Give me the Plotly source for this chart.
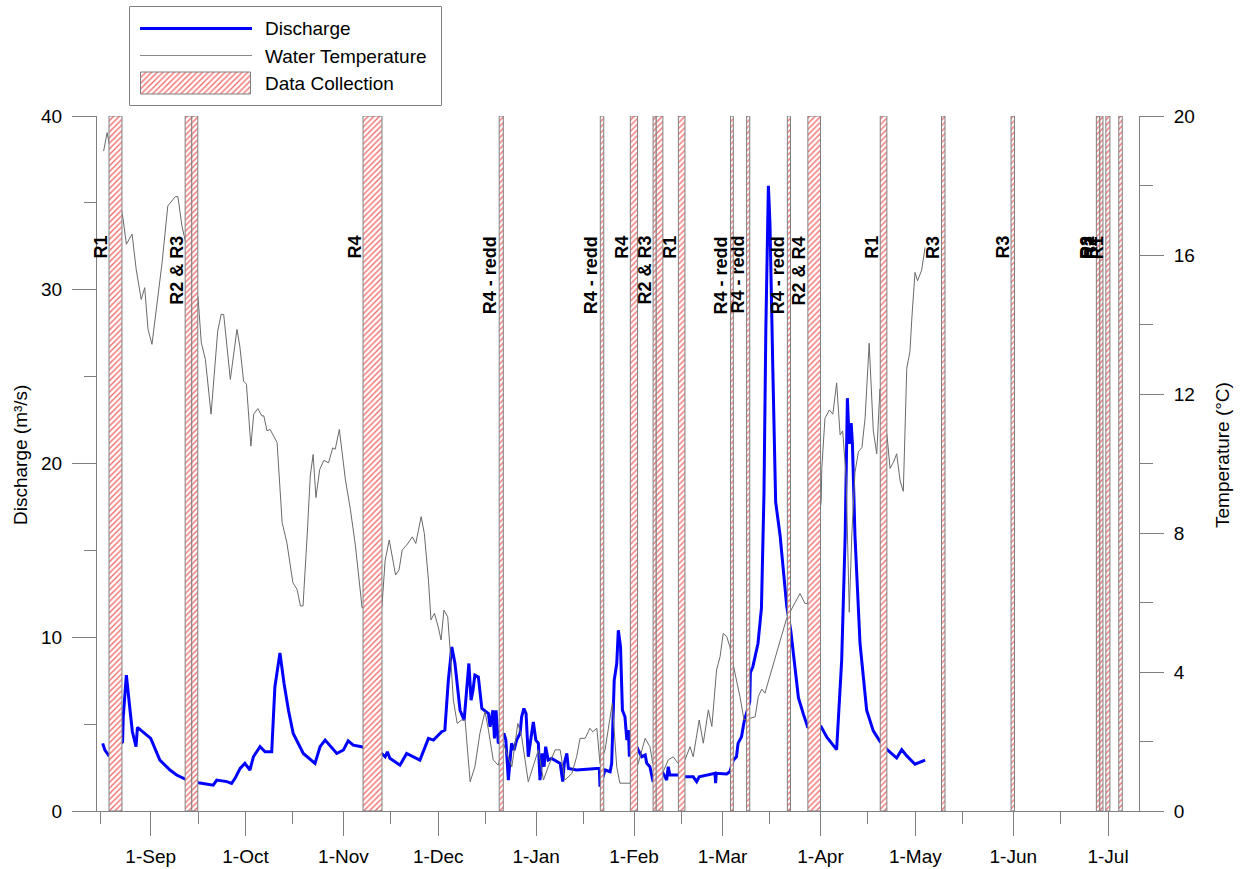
import pandas as pd
import plotly.graph_objects as go

# ---------------- data (days counted from 1 Sep 2012) ----------------
ORIGIN = pd.Timestamp("2012-09-01")

q_day = [-15.2, -14.5, -13.4, -8.9, -8.7, -7.7, -6.55, -5.8, -4.65, -4.2, 0.0, 1.05, 2.9, 6.1, 8.2, 10.9,
         15.1, 19.8, 20.9, 24.1, 25.6, 26.7, 28.3, 29.8, 31.4, 32.5, 34.6, 36.2, 38.3, 39.3, 40.9, 42.2,
         43.6, 45.1, 48.3, 52.0, 53.6, 55.2, 58.9, 61.0, 62.5, 64.1, 66.8, 73.1, 74.2, 74.9, 75.7, 78.9,
         81.0, 85.2, 87.9, 89.5, 92.1, 93.1, 94.2, 95.3, 96.3, 97.9, 99.2, 100.7, 101.4, 102.0, 102.6,
         103.7, 104.8, 106.9, 107.4, 108.3, 108.8, 109.3, 110.0, 111.8, 112.4, 113.2, 114.2, 115.0, 115.8,
         116.9, 117.4, 118.1, 118.8, 119.5, 120.3, 121.1, 121.9, 122.7, 123.2, 123.9, 124.5, 125.0, 125.8,
         126.9, 129.6, 130.4, 130.9, 131.7, 132.2, 134.8, 141.2, 142.0, 142.2, 143.8, 145.4, 145.9, 146.7,
         147.5, 148.0, 148.7, 149.3, 150.1, 150.7, 151.2, 151.5, 151.7, 154.3, 155.4, 156.5, 157.0, 158.0,
         158.9, 162.2, 163.3, 163.8, 164.3, 166.9, 168.8, 171.7, 172.8, 173.6, 176.0, 178.6, 178.8, 179.0,
         182.3, 183.3, 184.4, 185.4, 185.9, 187.0, 187.8, 189.6, 189.8, 190.6, 192.2, 193.3, 194.1, 194.7,
         195.5, 196.0, 196.9, 197.8, 199.2, 201.3, 202.6, 203.6, 205.0, 206.6, 207.9, 212.2, 214.0, 217.1,
         218.7, 219.8, 220.5, 221.1, 221.7, 222.1, 222.9, 224.5, 226.6, 228.7, 230.8, 233.1, 236.1, 237.7,
         239.3, 241.9, 243.5, 245.1]
q_val = [3.89, 3.5, 3.22, 3.98, 5.42, 7.82, 5.8, 4.56, 3.70, 4.81, 4.18, 3.70, 2.93, 2.36, 2.07, 1.84,
         1.63, 1.49, 1.78, 1.69, 1.59, 1.88, 2.45, 2.74, 2.36, 3.12, 3.70, 3.41, 3.41, 7.14, 9.10, 7.34,
         5.80, 4.46, 3.31, 2.74, 3.70, 4.08, 3.31, 3.51, 4.04, 3.79, 3.70, 3.31, 3.12, 3.41, 3.03, 2.64,
         3.31, 2.93, 4.18, 4.08, 4.56, 4.66, 7.53, 9.44, 8.49, 5.80, 5.23, 8.49, 6.38, 6.95, 7.82,
         7.72, 5.90, 5.61, 4.85, 5.80, 4.18, 5.80, 3.89, 4.46, 4.08, 1.78, 3.89, 3.51, 4.08,
         4.46, 5.42, 5.90, 5.61, 3.12, 4.08, 5.13, 4.08, 3.89, 1.78, 3.31, 2.55, 3.70, 2.93,
         3.03, 2.74, 1.69, 2.74, 3.31, 2.45, 2.36, 2.45, 2.45, 1.40, 2.36, 2.26, 2.74, 7.53,
         8.49, 10.40, 9.44, 5.80, 5.42, 4.08, 4.66, 3.12, 4.46, 3.51, 3.12, 3.22, 2.74, 2.55,
         1.78, 2.17, 1.78, 2.55, 2.07, 2.07, 1.97, 1.97, 1.69, 1.97, 2.07, 2.17, 1.60, 2.17,
         2.13, 2.26, 2.93, 3.12, 3.89, 4.27, 5.13, 6.28, 7.96, 8.32, 9.64, 11.67, 18.26, 27.83,
         35.98, 33.8, 25.44, 17.78, 15.86, 11.79, 10.36, 8.68, 6.52, 5.56, 4.85, 4.85, 4.25, 3.53,
         8.68, 15.86, 23.76, 21.13, 22.33, 21.13, 15.86, 9.64, 5.80, 4.61, 4.01, 3.53, 3.05, 3.53,
         3.17, 2.69, 2.82, 2.93]

t_day = [-14.9, -13.8, -13.1, -8.8, -7.7, -5.9, -4.6, -3.0, -1.9, -0.85, 0.4, 1.8, 3.6, 5.4, 6.2, 7.8,
         8.6, 9.9, 15.0, 16.0, 17.3, 19.1, 21.2, 22.3, 23.1, 25.2, 27.3, 28.2, 29.4, 30.3, 31.7, 32.6,
         33.9, 35.2, 35.8, 36.8, 37.8, 40.0, 41.6, 43.1, 45.0, 46.3, 47.4, 48.2, 49.5, 50.5, 51.4, 52.3,
         53.5, 54.8, 56.3, 57.6, 58.4, 59.7, 61.6, 63.2, 64.8, 66.9, 73.2, 74.2, 75.5, 77.5, 78.6, 79.6,
         81.0, 82.8, 83.9, 85.6, 86.6, 87.9, 88.7, 89.8, 91.0, 91.9, 92.8, 94.0, 94.7, 95.8, 97.0, 98.4,
         99.5, 101.1, 102.6, 104.2, 105.8, 106.9, 108.4, 110.0, 111.6, 112.7, 114.3, 116.2, 117.4, 119.5,
         121.1, 122.7, 124.3, 125.8, 128.0, 129.6, 131.1, 133.3, 134.8, 135.9, 137.5, 139.0, 139.9, 141.2,
         142.2, 143.8, 146.1, 147.5, 148.5, 151.7, 154.3, 156.5, 158.0, 158.9, 162.2, 163.8, 165.4, 166.9,
         169.1, 170.7, 171.7, 173.6, 174.9, 176.5, 177.6, 179.1, 180.2, 181.2, 182.3, 183.3, 184.7, 186.5,
         187.8, 189.7, 191.3, 192.3, 193.4, 194.4, 201.3, 205.5, 207.1, 207.9, 212.2, 212.4, 213.4, 214.8,
         215.9, 217.1, 218.2, 219.0, 220.1, 221.1, 221.9, 222.9, 224.0, 225.1, 226.1, 227.4, 228.7, 229.8,
         230.8, 233.1, 234.0, 235.1, 236.1, 237.2, 238.2, 239.3, 240.3, 240.9, 241.9, 242.7, 244.0, 245.1]
t_val = [18.99, 19.52, 19.19, 17.07, 16.31, 16.60, 15.59, 14.72, 15.06, 13.86, 13.43, 14.44, 15.78, 17.41, 17.49, 17.68,
         17.68, 16.83, 14.77, 13.48, 13.0, 11.42, 13.81, 14.29, 14.29, 12.42, 13.86, 13.38, 12.37, 12.28, 10.50, 11.42,
         11.58, 11.37, 11.37, 10.94, 10.98, 10.60, 8.30, 7.72, 6.57, 6.38, 5.90, 5.90, 7.91, 9.64, 10.26, 9.02,
         9.83, 10.09, 10.02, 10.45, 10.41, 10.98, 9.55, 8.68, 7.63, 5.85, 5.90, 7.22, 7.80, 6.79, 6.94, 7.51,
         7.65, 7.89, 7.70, 8.47, 7.99, 6.65, 5.50, 5.69, 5.30, 4.92, 5.78, 5.59, 4.73, 3.19, 2.52, 2.62,
         2.62, 0.84, 1.27, 2.24, 2.86, 2.33, 1.47, 1.32, 1.95, 1.66, 1.27, 2.52, 2.14, 0.84,
         1.27, 1.76, 0.89, 1.27, 1.76, 1.76, 0.89, 1.08, 1.56, 2.09, 2.09, 2.38, 2.28, 2.38,
         1.37, 1.76, 3.10, 1.27, 0.80, 0.80, 1.37, 2.09, 1.85, 1.37, 1.13, 1.47, 1.56, 1.37,
         1.47, 1.85, 1.56, 2.62, 1.95, 2.91, 2.43, 4.06, 4.44, 5.11, 5.02, 4.73, 4.06, 3.29,
         2.62, 2.67, 2.71, 3.29, 3.51, 3.39, 5.55, 6.26, 5.97, 5.97, 8.90, 9.86, 11.30, 11.54,
         11.42, 12.32, 10.82, 10.94, 9.62, 5.72, 7.94, 9.74, 10.34, 10.46, 11.30, 13.46, 10.94, 10.28,
         12.14, 10.76, 9.86, 10.04, 10.28, 9.50, 9.20, 12.74, 13.22, 14.18, 15.50, 15.26, 15.56, 16.22]

# data-collection periods (start/end, days from 1 Sep 2012)
dc_start = [-13.2, 10.9, 13.0, 67.2, 110.3, 142.3, 151.8, 159.0, 160.0, 167.0, 183.5, 188.6, 201.5,
            208.0, 230.9, 250.3, 272.3, 299.3, 300.4, 302.3, 306.4]
dc_end = [-9.1, 13.0, 14.9, 73.2, 111.6, 143.4, 154.1, 160.0, 162.1, 169.1, 184.4, 189.6, 202.5,
          212.0, 233.0, 251.4, 273.4, 300.4, 301.4, 303.6, 307.5]

label_text = ["R1", "R2 & R3", "R4", "R4 - redd", "R4 - redd", "R4", "R2 & R3", "R1", "R4 - redd",
              "R4 - redd", "R4 - redd", "R2 & R4", "R1", "R3", "R3", "R3", "R2", "R2", "R1"]
label_day = [-13.2, 10.9, 67.2, 110.3, 142.3, 151.8, 159.0, 167.0, 183.5, 188.6, 201.5, 208.0, 230.9,
             250.3, 272.3, 299.0, 299.3, 300.4, 302.3]

legend_names = ["Discharge", "Water Temperature", "Data Collection"]


def to_dates(days):
    return [ORIGIN + pd.Timedelta(days=d) for d in days]


FONT = "Liberation Sans, Arial, sans-serif"
GREY = "#808080"
W, H = 1240, 869
# plot area in pixels
PX_L, PX_R, PX_T, PX_B = 97, 1139, 116, 811

fig = go.Figure()

fig.add_trace(go.Scatter(x=to_dates(q_day), y=q_val, mode="lines", name=legend_names[0],
                         line=dict(color="#0000ff", width=3), xaxis="x", yaxis="y"))
fig.add_trace(go.Scatter(x=to_dates(t_day), y=t_val, mode="lines", name=legend_names[1],
                         line=dict(color="#6a6a6a", width=1), xaxis="x", yaxis="y2"))

centers = [ORIGIN + pd.Timedelta(days=(s + e) / 2) for s, e in zip(dc_start, dc_end)]
widths = [(e - s) * 86400000 for s, e in zip(dc_start, dc_end)]
pattern = dict(shape="/", fgcolor="#f26b6b", bgcolor="white", size=4, solidity=0.34)
fig.add_trace(go.Bar(x=centers, y=[1] * len(centers), base=0, width=widths, name=legend_names[2],
                     marker=dict(color="white", line=dict(color=GREY, width=1), pattern=pattern),
                     xaxis="x", yaxis="y3"))

# legend drawn on its own small axes (pixel-like ranges)
fig.add_trace(go.Scatter(x=[140, 252], y=[28.5, 28.5], mode="lines", line=dict(color="#0000ff", width=3),
                         xaxis="x4", yaxis="y4", hoverinfo="skip"))
fig.add_trace(go.Scatter(x=[140, 252], y=[55.5, 55.5], mode="lines", line=dict(color="#8a8a8a", width=1),
                         xaxis="x4", yaxis="y4", hoverinfo="skip"))
fig.add_trace(go.Bar(x=[195.5], y=[22], base=[72], width=[110],
                     marker=dict(color="white", line=dict(color=GREY, width=1), pattern=pattern),
                     xaxis="x4", yaxis="y4", hoverinfo="skip"))

xdom = [PX_L / W, PX_R / W]
ydom = [(H - PX_B) / H, (H - PX_T) / H]

axis_common = dict(showgrid=False, zeroline=False, showline=True, linecolor=GREY, linewidth=1,
                   ticks="outside", tickcolor=GREY, tickwidth=1, automargin=False,
                   tickfont=dict(family=FONT, size=19, color="black"))

fig.update_layout(
    template="none",
    width=W, height=H,
    margin=dict(l=0, r=0, t=0, b=0, pad=0, autoexpand=False),
    paper_bgcolor="white", plot_bgcolor="white",
    showlegend=False,
    barmode="overlay",
    font=dict(family=FONT, color="black"),
    xaxis=dict(**axis_common, domain=xdom, anchor="y", type="date",
               range=[ORIGIN - pd.Timedelta(days=17), ORIGIN + pd.Timedelta(days=312.8)],
               dtick="M1", tick0="2012-09-01", tickformat="%-d-%b", ticklen=24,
               ticklabelstandoff=4,
               minor=dict(dtick="M1", tick0="2012-08-16", ticklen=12, ticks="outside",
                          tickcolor=GREY, tickwidth=1, showgrid=False)),
    yaxis=dict(**axis_common, domain=ydom, anchor="x", range=[0, 40], dtick=10, ticklen=24,
               ticklabelstandoff=6,
               minor=dict(dtick=5, ticklen=12, ticks="outside", tickcolor=GREY, tickwidth=1, showgrid=False)),
    yaxis2=dict(**axis_common, overlaying="y", side="right", anchor="x", range=[0, 20], dtick=4, ticklen=24,
                ticklabelstandoff=6,
                minor=dict(dtick=2, ticklen=13, ticks="outside", tickcolor=GREY, tickwidth=1, showgrid=False)),
    yaxis3=dict(overlaying="y", anchor="x", range=[0, 1], visible=False, showgrid=False, automargin=False),
    xaxis4=dict(domain=[120 / W, 450 / W], range=[120, 450], anchor="y4", visible=False, showgrid=False,
                automargin=False),
    yaxis4=dict(domain=[(H - 110) / H, (H - 2) / H], range=[110, 2], anchor="x4", visible=False,
                showgrid=False, automargin=False),
)

annotations = []
for txt, d in zip(label_text, label_day):
    annotations.append(dict(text="<b>" + txt + "</b>", x=ORIGIN + pd.Timedelta(days=d), xref="x",
                            y=(H - 234) / H, yref="paper", xanchor="right", yanchor="top",
                            textangle=-90, showarrow=False, xshift=3,
                            font=dict(family=FONT, size=18, color="black")))

annotations.append(dict(text="Discharge (m³/s)", x=20 / W, y=(H - 455) / H, xref="paper", yref="paper",
                        textangle=-90, showarrow=False, xanchor="center", yanchor="middle",
                        font=dict(family=FONT, size=19, color="black")))
annotations.append(dict(text="Temperature (°C)", x=1222 / W, y=(H - 455) / H, xref="paper", yref="paper",
                        textangle=-90, showarrow=False, xanchor="center", yanchor="middle",
                        font=dict(family=FONT, size=19, color="black")))

for name, yy in zip(legend_names, [28.5, 56, 83]):
    annotations.append(dict(text=name, x=263, y=yy, xref="x4", yref="y4", xanchor="left", yanchor="middle",
                            showarrow=False, font=dict(family=FONT, size=19, color="black")))

fig.update_layout(annotations=annotations)
fig.add_shape(type="rect", xref="x4", yref="y4", x0=129.5, x1=441.5, y0=6.5, y1=105.5,
              line=dict(color=GREY, width=1), fillcolor="rgba(0,0,0,0)")

fig.write_html("out.html", config={"displayModeBar": False},
               post_script="document.body.style.margin='0px';document.body.style.overflow='hidden';")
